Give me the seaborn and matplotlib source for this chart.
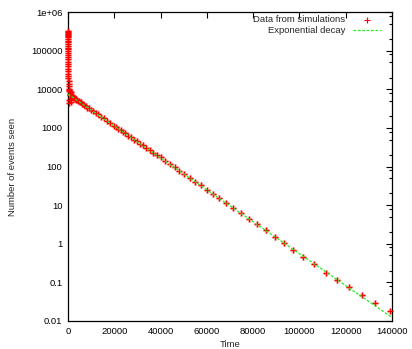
import matplotlib
matplotlib.use("Agg")
import matplotlib.pyplot as plt
import matplotlib.ticker as mticker
import seaborn as sns

# ---- data ----
early_t = [1, 2, 3, 4, 5, 6, 8, 10, 12, 14, 17, 20, 24, 28, 33, 39, 46, 54, 63, 74,
           86, 100, 116, 135, 156, 180, 208, 240, 276, 318, 366, 420, 480, 550, 630, 720,
           820, 930, 1050, 1180, 1320, 1470, 1630, 1800]
early_v = [325000, 310000, 290000, 275000, 255000, 240000, 220000, 200000, 182000, 165000,
           150000, 135000, 120000, 108000, 97000, 86000, 76000, 67000, 59000, 52000,
           45000, 39000, 34000, 29500, 25500, 22000, 19000, 16500, 14000, 12000,
           10200, 8800, 5200, 9500, 4400, 7600, 9100, 5300, 6900, 4700,
           8300, 5900, 7200, 6400]

mid_t = [1946, 2121, 2312, 2520, 2747, 2994, 3263, 3557, 3877, 4226, 4606, 5021, 5473,
         5966, 6503, 7088, 7726, 8421, 9179, 10005, 10905, 11886, 12956, 14122, 15393,
         16778, 18288, 19934, 20831, 21768, 22748, 23772, 24842, 25960, 27128, 28349,
         29625, 30958, 32351, 33807, 35328, 36918, 38579]
mid_v = [6500, 6150, 6200, 5900, 5900, 5650, 5600, 5350, 5300, 5000, 4950, 4650, 4550,
         4250, 4120, 3800, 3680, 3350, 3200, 2880, 2720, 2400, 2240, 1940, 1770, 1510,
         1345, 1120, 1055, 940, 880, 775, 720, 630, 580, 500, 456, 390, 352, 297, 265,
         221, 194]

late_t = [40315, 42043, 43944, 46105, 48093, 50253, 52587, 54877, 57340, 59932, 62525,
          65377, 68401, 71426, 74753, 78080, 81667, 85426, 89315, 93463, 97352, 101673,
          106426, 111352, 116364, 121550, 126908, 132655, 139006]
late_v = [172, 141, 115, 94.8, 77.4, 62.4, 50.9, 40.2, 32.4, 24.9, 19.6, 14.9, 11.5, 8.36,
          6.21, 4.42, 3.16, 2.21, 1.51, 1.02, 0.682, 0.450, 0.296, 0.180, 0.112, 0.0738,
          0.0474, 0.0284, 0.0183]

fit_t = [0, 140000]
fit_v = [7500, 0.0123]

x_ticks = [0, 20000, 40000, 60000, 80000, 100000, 120000, 140000]
x_labels = ["0", "20000", "40000", "60000", "80000", "100000", "120000", "140000"]
y_ticks = [1e6, 1e5, 1e4, 1e3, 1e2, 1e1, 1, 0.1, 0.01]
y_labels = ["1e+06", "100000", "10000", "1000", "100", "10", "1", "0.1", "0.01"]

sim_t = early_t + mid_t + late_t
sim_v = early_v + mid_v + late_v

# ---- style ----
sns.set_style("white")
plt.rcParams["font.family"] = ["Liberation Sans", "DejaVu Sans"]
FS = 6.8

fig = plt.figure(figsize=(4.12, 3.49), dpi=100)
ax = fig.add_axes([68 / 412, 1 - 321 / 349, (392 - 68) / 412, (321 - 12) / 349])

# pale halo under markers
sns.scatterplot(x=sim_t, y=sim_v, marker="+", color="#ffb0b0", s=24,
                linewidth=2.2, ax=ax, zorder=2, legend=False)
ax.collections[-1].set_clip_on(False)
sns.scatterplot(x=sim_t, y=sim_v, marker="+", color="#ff0000", s=20,
                linewidth=0.85, ax=ax, zorder=3, label="Data from simulations")
ax.collections[-1].set_clip_on(False)
sim_handle = ax.collections[-1]

sns.lineplot(x=fit_t, y=fit_v, color="#22ee22", linewidth=0.9, ax=ax, zorder=4,
             label="Exponential decay")
fit_line = ax.lines[-1]
fit_line.set_dashes((2.2, 1.3))

ax.set_yscale("log")
ax.set_xlim(0, 140000)
ax.set_ylim(0.01, 1e6)

ax.yaxis.set_major_locator(mticker.FixedLocator(y_ticks))
ax.yaxis.set_major_formatter(mticker.FixedFormatter(y_labels))
ax.yaxis.set_minor_locator(mticker.LogLocator(base=10, subs=(2, 5, 8), numticks=50))
ax.yaxis.set_minor_formatter(mticker.NullFormatter())
ax.xaxis.set_major_locator(mticker.FixedLocator(x_ticks))
ax.xaxis.set_major_formatter(mticker.FixedFormatter(x_labels))

ax.tick_params(which="both", direction="in", top=True, right=True, colors="black",
               labelsize=FS, width=0.8)
ax.tick_params(which="major", length=4.0, pad=4)
ax.tick_params(which="minor", length=2.2)
for s in ax.spines.values():
    s.set_color("black")
    s.set_linewidth(0.9)

ax.set_xlabel("Time", fontsize=FS, labelpad=3)
ax.set_ylabel("Number of events seen", fontsize=FS, labelpad=10)

leg = ax.legend(handles=[sim_handle, fit_line],
                labels=["Data from simulations", "Exponential decay"],
                loc="upper right", bbox_to_anchor=(381 / 412, 1 - 15 / 349),
                bbox_transform=fig.transFigure, frameon=False, markerfirst=False,
                fontsize=FS, handlelength=3.0, handletextpad=0.8, labelspacing=0.2,
                borderpad=0, borderaxespad=0, scatterpoints=1)

fig.savefig("out.png", dpi=100, facecolor="white")
